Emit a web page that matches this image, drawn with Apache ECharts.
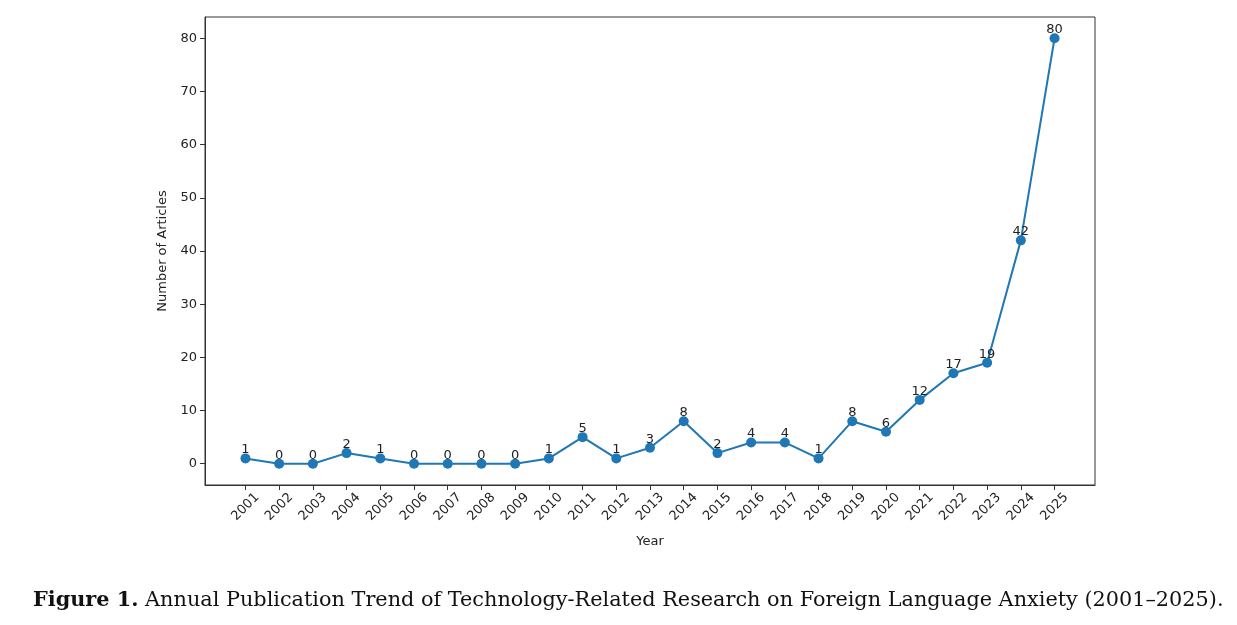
<!DOCTYPE html>
<html>
<head>
<meta charset="utf-8">
<script src="https://cdn.jsdelivr.net/npm/echarts@6/dist/echarts.min.js"></script>
<style>
  html, body { margin: 0; padding: 0; background: #fff; }
  #chart { width: 1237px; height: 625px; }
</style>
</head>
<body>
<div id="chart"></div>
<script>
// data
const years = [2001, 2002, 2003, 2004, 2005, 2006, 2007, 2008, 2009, 2010, 2011, 2012, 2013,
  2014, 2015, 2016, 2017, 2018, 2019, 2020, 2021, 2022, 2023, 2024, 2025];
const articles = [1, 0, 0, 2, 1, 0, 0, 0, 0, 1, 5, 1, 3, 8, 2, 4, 4, 1, 8, 6, 12, 17, 19, 42, 80];
const yTicks = [0, 10, 20, 30, 40, 50, 60, 70, 80];

const chart = echarts.init(document.getElementById("chart"));

const font = "DejaVu Sans";
const blue = "#1f77b4";

chart.setOption({
  animation: false,
  title: {
    text: "{b|Figure 1.} Annual Publication Trend of Technology-Related Research on Foreign Language Anxiety (2001\u20132025).",
    left: 28,
    top: 585,
    textStyle: {
      fontFamily: "DejaVu Serif",
      fontSize: 20.8,
      fontWeight: "normal",
      color: "#111",
      rich: {
        b: { fontFamily: "DejaVu Serif", fontSize: 20.8, fontWeight: "bold", color: "#111" },
      },
    },
  },
  grid: {
    left: 205,
    right: 142,
    top: 17,
    bottom: 140,
    show: true,
    borderColor: "#333",
    borderWidth: 1,
  },
  xAxis: {
    type: "value",
    min: 1999.8,
    max: 2026.2,
    name: "Year",
    nameLocation: "middle",
    nameGap: 50,
    nameTextStyle: { fontFamily: font, fontSize: 13, color: "#222" },
    axisLine: { show: true, onZero: false, lineStyle: { color: "#333" } },
    axisTick: { show: true, customValues: years, length: 5, lineStyle: { color: "#333" } },
    splitLine: { show: false },
    axisLabel: {
      customValues: years,
      rotate: 45,
      align: "center",
      verticalAlign: "middle",
      margin: 22,
      fontFamily: font,
      fontSize: 13,
      color: "#222",
      formatter: (v) => String(v),
    },
  },
  yAxis: {
    type: "value",
    min: -4,
    max: 84,
    name: "Number of Articles",
    nameLocation: "middle",
    nameGap: 35,
    nameTextStyle: { fontFamily: font, fontSize: 13, color: "#222" },
    axisLine: { show: true, onZero: false, lineStyle: { color: "#333" } },
    axisTick: { show: true, customValues: yTicks, length: 5, lineStyle: { color: "#333" } },
    splitLine: { show: false },
    axisLabel: {
      customValues: yTicks,
      margin: 8,
      fontFamily: font,
      fontSize: 13,
      color: "#222",
    },
  },
  series: [
    {
      type: "line",
      data: years.map((y, i) => [y, articles[i]]),
      symbol: "circle",
      symbolSize: 10,
      itemStyle: { color: blue },
      lineStyle: { color: blue, width: 2 },
      label: {
        show: true,
        position: "top",
        distance: -3,
        fontFamily: font,
        fontSize: 13,
        color: "#222",
        formatter: (p) => p.value[1],
      },
    },
  ],
});
</script>
</body>
</html>
